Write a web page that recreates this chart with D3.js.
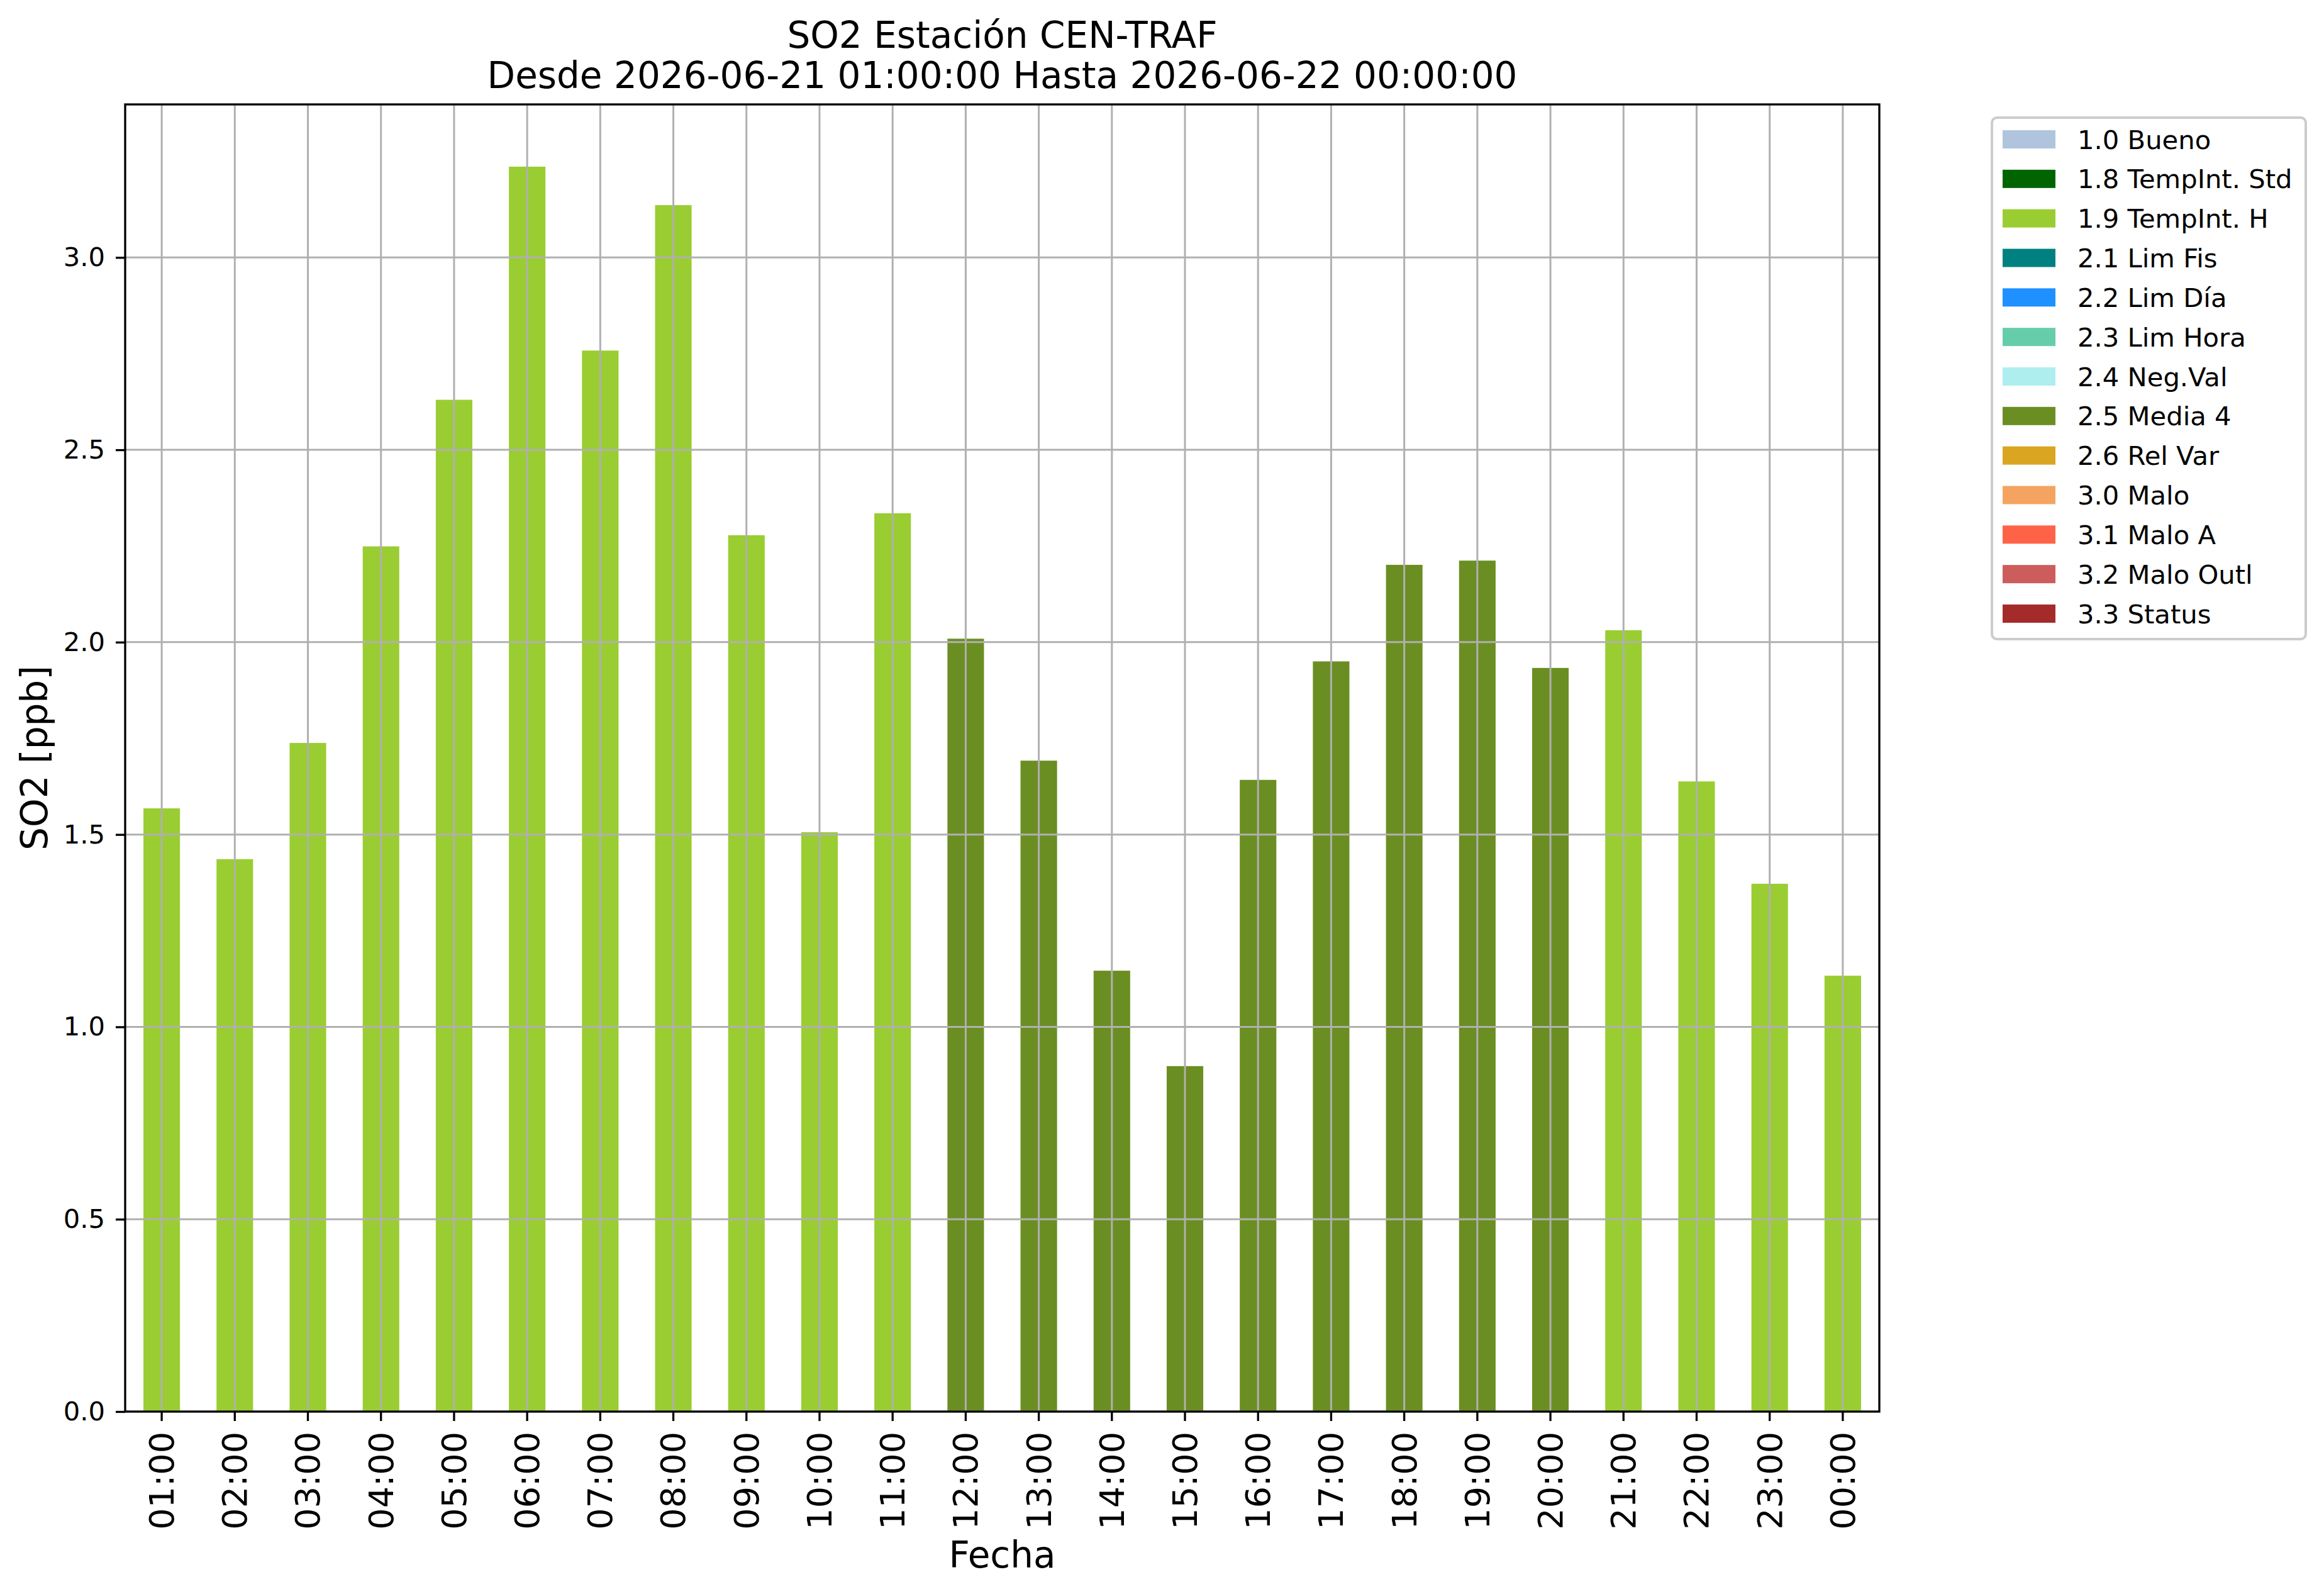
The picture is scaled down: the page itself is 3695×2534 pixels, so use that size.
<!DOCTYPE html>
<html>
<head>
<meta charset="utf-8">
<script src="https://cdn.jsdelivr.net/npm/d3@7"></script>
<style>
  html, body { margin: 0; padding: 0; background: #ffffff; }
  svg { display: block; font-family: "DejaVu Sans", sans-serif; }
</style>
</head>
<body>
<div id="chart"></div>
<script>
// data
const hours = ["01:00","02:00","03:00","04:00","05:00","06:00","07:00","08:00","09:00","10:00","11:00","12:00",
               "13:00","14:00","15:00","16:00","17:00","18:00","19:00","20:00","21:00","22:00","23:00","00:00"];
const so2 = [1.568, 1.436, 1.738, 2.249, 2.630, 3.236, 2.758, 3.136, 2.278, 1.506, 2.335, 2.009,
             1.692, 1.146, 0.898, 1.642, 1.950, 2.201, 2.212, 1.933, 2.031, 1.638, 1.372, 1.133];
const flags = ["1.9","1.9","1.9","1.9","1.9","1.9","1.9","1.9","1.9","1.9","1.9","2.5",
               "2.5","2.5","2.5","2.5","2.5","2.5","2.5","2.5","1.9","1.9","1.9","1.9"];
const flagCodes = ["1.0","1.8","1.9","2.1","2.2","2.3","2.4","2.5","2.6","3.0","3.1","3.2","3.3"];
const flagNames = ["Bueno","TempInt. Std","TempInt. H","Lim Fis","Lim Día","Lim Hora","Neg.Val","Media 4","Rel Var","Malo","Malo A","Malo Outl","Status"];
const flagColors = ["#b0c4de","#006400","#9acd32","#008080","#1e90ff","#66cdaa","#afeeee","#6b8e23","#daa520","#f4a460","#ff6347","#cd5c5c","#a52a2a"];
const yTicks = [0, 0.5, 1.0, 1.5, 2.0, 2.5, 3.0];

const W = 3695, H = 2534;
const axLeft = 199, axRight = 2988, axTop = 166, axBottom = 2244;

const svg = d3.select("#chart").append("svg")
  .attr("width", W)
  .attr("height", H);

svg.append("rect").attr("width", W).attr("height", H).attr("fill", "#fff");

const x = d3.scaleBand()
  .domain(hours)
  .range([axLeft, axRight])
  .paddingInner(0.5)
  .paddingOuter(0.25);

const ymax = d3.max(so2) * 1.05;
const y = d3.scaleLinear().domain([0, ymax]).range([axBottom, axTop]);

const color = d3.scaleOrdinal().domain(flagCodes).range(flagColors);

// bars
svg.append("g")
  .selectAll("rect")
  .data(hours)
  .join("rect")
  .attr("x", d => x(d))
  .attr("width", x.bandwidth())
  .attr("y", (d, i) => y(so2[i]))
  .attr("height", (d, i) => y(0) - y(so2[i]))
  .attr("fill", (d, i) => color(flags[i]));

// grid on top of the bars, like the original
const grid = svg.append("g").attr("stroke", "#b0b0b0").attr("stroke-width", 3);
grid.selectAll("line.v")
  .data(hours)
  .join("line")
  .attr("class", "v")
  .attr("x1", d => x(d) + x.bandwidth() / 2)
  .attr("x2", d => x(d) + x.bandwidth() / 2)
  .attr("y1", axTop)
  .attr("y2", axBottom);
grid.selectAll("line.h")
  .data(yTicks)
  .join("line")
  .attr("class", "h")
  .attr("x1", axLeft)
  .attr("x2", axRight)
  .attr("y1", d => y(d))
  .attr("y2", d => y(d));

// axes
const xAxis = d3.axisBottom(x).tickSize(15).tickPadding(16);
const gx = svg.append("g")
  .attr("transform", `translate(0,${axBottom})`)
  .call(xAxis);
gx.select(".domain").remove();
gx.selectAll(".tick line").attr("stroke", "#000").attr("stroke-width", 3.3);
gx.selectAll(".tick text")
  .attr("transform", "rotate(-90)")
  .attr("x", -32)
  .attr("y", 0)
  .attr("dy", "0.35em")
  .style("text-anchor", "end")
  .style("font-size", "54px")
  .style("font-family", "DejaVu Sans")
  .attr("fill", "#000");

const yAxis = d3.axisLeft(y).tickValues(yTicks).tickFormat(d3.format(".1f")).tickSize(15).tickPadding(17);
const gy = svg.append("g")
  .attr("transform", `translate(${axLeft},0)`)
  .call(yAxis);
gy.select(".domain").remove();
gy.selectAll(".tick line").attr("stroke", "#000").attr("stroke-width", 3.3);
gy.selectAll(".tick text")
  .style("font-size", "41.7px")
  .style("font-family", "DejaVu Sans")
  .attr("fill", "#000");

// frame
svg.append("rect")
  .attr("x", axLeft).attr("y", axTop)
  .attr("width", axRight - axLeft).attr("height", axBottom - axTop)
  .attr("fill", "none")
  .attr("stroke", "#000")
  .attr("stroke-width", 3.3);

// titles
const cx = (axLeft + axRight) / 2;
svg.append("text").attr("x", cx).attr("y", 76).attr("text-anchor", "middle")
  .style("font-size", "58px").text("SO2 Estación CEN-TRAF");
svg.append("text").attr("x", cx).attr("y", 140).attr("text-anchor", "middle")
  .style("font-size", "58px").text("Desde 2026-06-21 01:00:00 Hasta 2026-06-22 00:00:00");

svg.append("text").attr("x", cx).attr("y", 2492).attr("text-anchor", "middle")
  .style("font-size", "58px").text("Fecha");

svg.append("text")
  .attr("transform", `translate(75,${(axTop + axBottom) / 2}) rotate(-90)`)
  .attr("text-anchor", "middle")
  .style("font-size", "58px").text("SO2 [ppb]");

// legend
const legend = svg.append("g");
legend.append("rect")
  .attr("x", 3167).attr("y", 187)
  .attr("width", 499).attr("height", 829)
  .attr("rx", 8).attr("ry", 8)
  .attr("fill", "#fff").attr("fill-opacity", 0.8)
  .attr("stroke", "#cccccc").attr("stroke-width", 4);

const row = d3.scaleLinear().domain([0, flagCodes.length - 1]).range([207, 961]);
const items = legend.selectAll("g.item")
  .data(flagCodes)
  .join("g")
  .attr("class", "item")
  .attr("transform", d => `translate(0,${row(flagCodes.indexOf(d))})`);
items.append("rect")
  .attr("x", 3184).attr("y", 0)
  .attr("width", 84).attr("height", 29)
  .attr("fill", d => color(d));
items.append("text")
  .attr("x", 3303).attr("y", 29.5)
  .style("font-size", "41.7px")
  .text((d, i) => d + " " + flagNames[i]);
</script>
</body>
</html>
